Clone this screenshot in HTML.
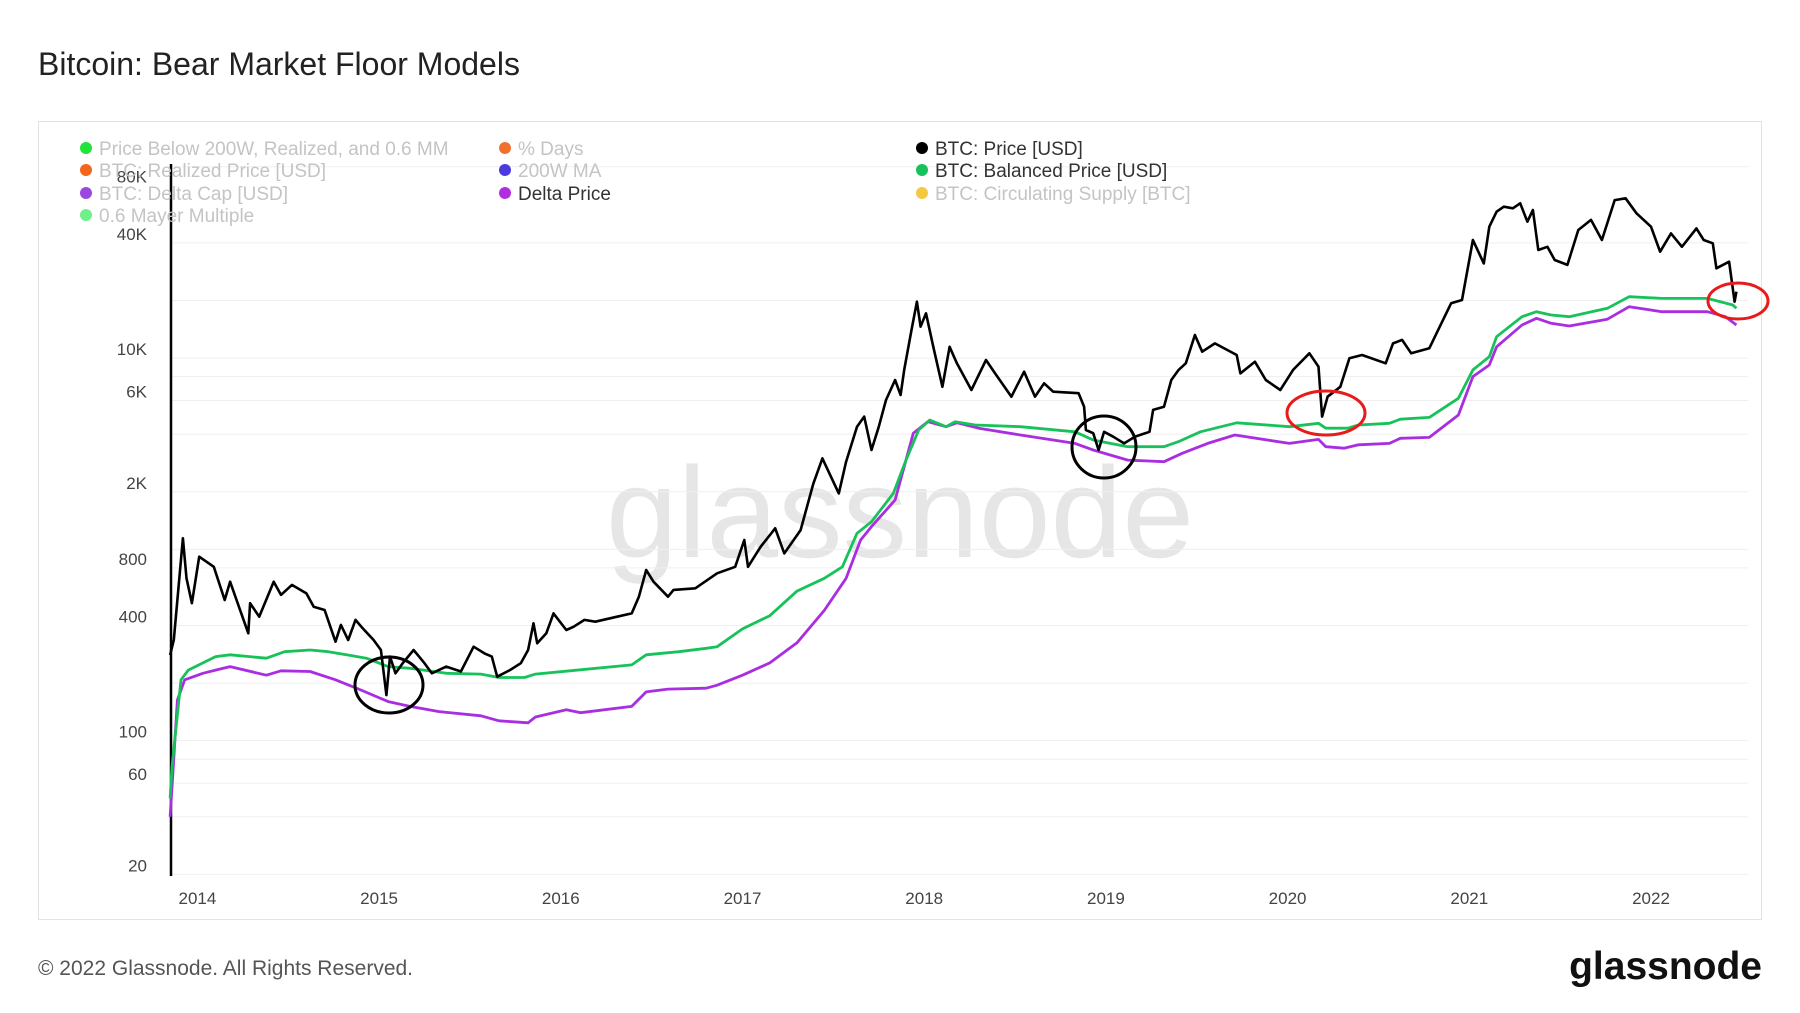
<!DOCTYPE html>
<html><head><meta charset="utf-8"><style>
body{margin:0;width:1800px;height:1013px;background:#fff;font-family:"Liberation Sans",sans-serif;overflow:hidden}
svg{position:absolute;left:0;top:0}
</style></head><body>
<svg id="c" width="1800" height="1013">
<text x="38" y="75" font-size="32" fill="#222">Bitcoin: Bear Market Floor Models</text>
<rect x="38.5" y="121.5" width="1723" height="798" fill="none" stroke="#e3e3e3"/>
<text x="900" y="557" font-size="129" fill="#e6e6e6" text-anchor="middle">glassnode</text>
<g id="grid"></g><g id="series"></g><g id="legend"></g>
<text x="38" y="975" font-size="21" fill="#555">© 2022 Glassnode. All Rights Reserved.</text>
<text x="1762" y="979" font-size="39" fill="#111" text-anchor="end" font-weight="bold">glassnode</text>
</svg>
<script>
const yTicks=[20,60,100,400,800,2000,6000,10000,40000,80000];
const yTickLabels=["20","60","100","400","800","2K","6K","10K","40K","80K"];
const gridVals=[20,40,60,80,100,200,400,800,1000,2000,4000,6000,8000,10000,20000,40000,100000];
const xYears=[2014,2015,2016,2017,2018,2019,2020,2021,2022];
const priceT=[2013.85,2013.87,2013.92,2013.94,2013.97,2014.01,2014.09,2014.15,2014.18,2014.28,2014.29,2014.34,2014.42,2014.46,2014.52,2014.6,2014.64,2014.7,2014.76,2014.79,2014.83,2014.87,2014.91,2014.97,2015.01,2015.04,2015.06,2015.09,2015.13,2015.19,2015.25,2015.29,2015.37,2015.45,2015.52,2015.58,2015.62,2015.65,2015.72,2015.78,2015.82,2015.85,2015.87,2015.92,2015.96,2016.03,2016.07,2016.13,2016.19,2016.31,2016.39,2016.43,2016.47,2016.51,2016.59,2016.62,2016.74,2016.86,2016.96,2017.01,2017.03,2017.1,2017.18,2017.23,2017.32,2017.39,2017.44,2017.53,2017.57,2017.63,2017.67,2017.71,2017.75,2017.79,2017.84,2017.87,2017.89,2017.93,2017.96,2017.98,2018.01,2018.05,2018.1,2018.14,2018.18,2018.26,2018.34,2018.39,2018.48,2018.55,2018.61,2018.66,2018.71,2018.85,2018.88,2018.89,2018.93,2018.96,2018.99,2019.04,2019.1,2019.16,2019.24,2019.26,2019.32,2019.36,2019.4,2019.44,2019.49,2019.53,2019.6,2019.72,2019.74,2019.82,2019.88,2019.96,2020.03,2020.12,2020.17,2020.19,2020.22,2020.29,2020.34,2020.41,2020.54,2020.58,2020.63,2020.68,2020.78,2020.82,2020.9,2020.96,2021.02,2021.08,2021.11,2021.15,2021.19,2021.24,2021.28,2021.32,2021.35,2021.38,2021.43,2021.47,2021.54,2021.6,2021.67,2021.73,2021.8,2021.86,2021.92,2022.0,2022.05,2022.11,2022.17,2022.25,2022.29,2022.34,2022.36,2022.43,2022.46,2022.47];
const priceV=[280,336,1143,706,523,916,811,544,678,364,523,445,678,578,652,589,501,482,329,403,336,428,387,336,298,173,275,225,254,298,254,225,244,230,310,286,275,216,234,254,298,411,323,364,463,379,394,428,419,445,463,566,780,678,566,614,626,750,811,1120,811,1033,1289,953,1262,2213,2990,1963,2873,4378,4944,3306,4378,6040,7680,6410,8670,14030,19720,14590,17140,11460,7080,11460,9390,6810,9770,8320,6280,8490,6280,7380,6670,6550,5570,4210,4050,3306,4120,3880,3580,3880,4120,5360,5570,7680,8670,9390,13210,10800,11940,10380,8320,9570,7680,6810,8670,10590,9020,4944,6280,7080,9970,10380,9390,11940,12440,10590,11250,13490,19330,20130,41420,31270,48620,58250,61830,60670,64430,51640,59440,36740,38190,32570,30700,46740,52740,41420,67000,68400,57150,48620,35980,44870,38190,47650,41420,39810,29460,31910,19720,22240];
const balT=[2013.85,2013.86,2013.91,2013.95,2014.1,2014.18,2014.38,2014.48,2014.62,2014.72,2014.82,2014.93,2015.05,2015.17,2015.37,2015.56,2015.66,2015.8,2015.86,2016.05,2016.39,2016.47,2016.65,2016.8,2016.86,2017.0,2017.15,2017.3,2017.45,2017.55,2017.63,2017.71,2017.83,2017.9,2017.97,2018.03,2018.12,2018.17,2018.28,2018.53,2018.83,2018.93,2019.12,2019.32,2019.4,2019.52,2019.72,2020.01,2020.17,2020.21,2020.33,2020.39,2020.56,2020.62,2020.78,2020.94,2021.02,2021.11,2021.15,2021.29,2021.37,2021.45,2021.55,2021.76,2021.88,2022.06,2022.31,2022.45,2022.47];
const balV=[50,73,208,234,275,281,270,292,298,292,281,270,244,239,225,223,214,214,223,232,249,281,292,304,310,384,450,605,706,811,1214,1396,1963,2930,4210,4740,4378,4650,4470,4378,4120,3730,3440,3440,3660,4120,4590,4378,4560,4300,4300,4470,4560,4790,4900,6160,8670,10170,12940,16460,17480,16800,16460,18200,20940,20500,20500,18940,18200];
const deltaT=[2013.85,2013.86,2013.89,2013.93,2014.03,2014.1,2014.18,2014.38,2014.46,2014.62,2014.76,2014.9,2015.05,2015.17,2015.33,2015.56,2015.66,2015.82,2015.86,2016.03,2016.11,2016.39,2016.47,2016.59,2016.8,2016.86,2017.0,2017.15,2017.3,2017.45,2017.57,2017.65,2017.71,2017.84,2017.94,2018.02,2018.12,2018.18,2018.3,2018.53,2018.83,2018.93,2019.12,2019.32,2019.42,2019.56,2019.71,2020.01,2020.17,2020.21,2020.31,2020.39,2020.56,2020.62,2020.78,2020.94,2021.02,2021.11,2021.15,2021.29,2021.37,2021.45,2021.55,2021.76,2021.88,2022.06,2022.31,2022.41,2022.47];
const deltaV=[40,57,163,208,225,234,244,220,232,230,208,184,160,151,142,135,127,124,133,145,140,151,180,186,188,195,220,255,325,480,706,1120,1315,1812,4050,4650,4378,4590,4300,3960,3580,3306,2930,2873,3180,3580,3960,3580,3760,3440,3380,3520,3580,3810,3850,5040,8000,9200,11460,14900,16150,15200,14720,15960,18570,17480,17480,16460,14900];
const NS='http://www.w3.org/2000/svg';
const X0=171,X1=1748;
function xs(t){return 197.4+(t-2014)*181.7;}
function ys(v){return 874.4-Math.log10(v/20)*191.3;}
function mk(tag,attrs,parent){const e=document.createElementNS(NS,tag);for(const k in attrs)e.setAttribute(k,attrs[k]);parent.appendChild(e);return e;}
const grid=document.getElementById('grid');
gridVals.forEach(v=>{const l=mk('line',{x1:X0,x2:X1,y1:ys(v),y2:ys(v),stroke:'#efefef','stroke-width':1},grid);

});
yTicks.forEach((v,i)=>{const t=mk('text',{x:147,y:ys(v)-3,'font-size':17,fill:'#444','text-anchor':'end'},grid);t.textContent=yTickLabels[i];

});
xYears.forEach(y=>{const t=mk('text',{x:xs(y),y:904,'font-size':17,fill:'#444','text-anchor':'middle'},grid);t.textContent=y;

});
const ax=mk('line',{x1:X0,x2:X0,y1:164,y2:876,stroke:'#000','stroke-width':2.5},grid);


const S=document.getElementById('series');
function line(T,V,col,w,name){const p=mk('polyline',{points:T.map((t,i)=>xs(t).toFixed(1)+','+ys(V[i]).toFixed(1)).join(' '),fill:'none',stroke:col,'stroke-width':w,'stroke-linejoin':'round'},S);

}
line(deltaT,deltaV,'#a92ee0',2.8,'delta-price-line');
line(balT,balV,'#18c25a',2.8,'balanced-price-line');
line(priceT,priceV,'#000',2.6,'btc-price-line');
function ell(cx,cy,rx,ry,col,name){const e=mk('ellipse',{cx:cx,cy:cy,rx:rx,ry:ry,fill:'none',stroke:col,'stroke-width':3},S);

}
ell(389,685,34,28,'#000','circle-2015');
ell(1104,447,32,31,'#000','circle-2019');
ell(1326,413,39,22,'#e81b1b','circle-2020');
ell(1738,301,30,18,'#e81b1b','circle-2022');
const L=document.getElementById('legend');
const leg=[[86,148,'#22e33a','Price Below 200W, Realized, and 0.6 MM',1],[86,170,'#f5651b','BTC: Realized Price [USD]',1],[86,193,'#9a49e0','BTC: Delta Cap [USD]',1],[86,215,'#6ef08a','0.6 Mayer Multiple',1],
[505,148,'#f07030','% Days',1],[505,170,'#4a3ae0','200W MA',1],[505,193,'#b02ee0','Delta Price',0],
[922,148,'#000','BTC: Price [USD]',0],[922,170,'#18c25a','BTC: Balanced Price [USD]',0],[922,193,'#f5c842','BTC: Circulating Supply [BTC]',1]];
leg.forEach(d=>{const g=mk('g',{},L);


mk('circle',{cx:d[0],cy:d[1],r:6,fill:d[2]},g);
const t=mk('text',{x:d[0]+13,y:d[1]+7,'font-size':19,fill:d[4]?'#c4c4c4':'#333'},g);t.textContent=d[3];});
</script>
</body></html>
